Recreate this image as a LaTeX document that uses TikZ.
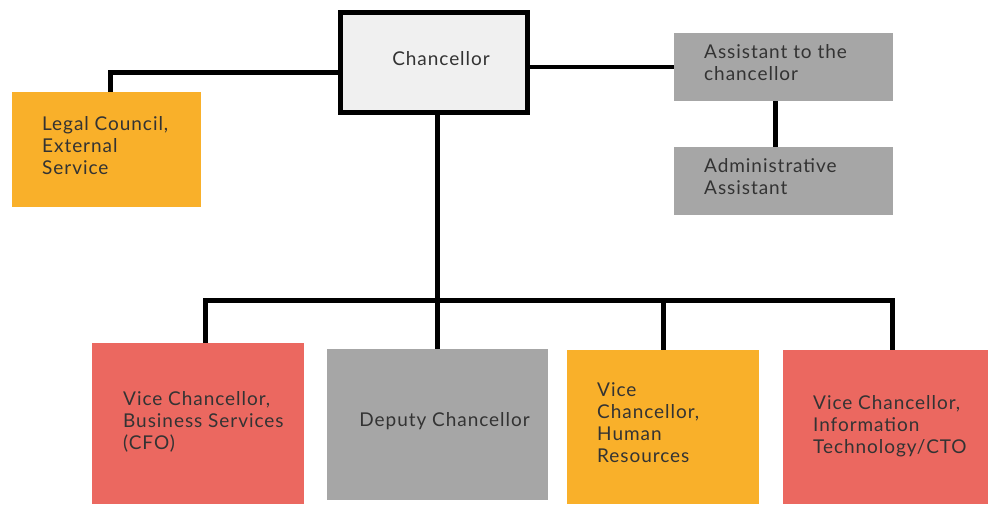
\documentclass[tikz,border=0pt]{standalone}
\usepackage{fontspec}
\setmainfont[LetterSpace=5]{Lato}
\definecolor{orgorange}{HTML}{F9B02A}
\definecolor{orgred}{HTML}{EB6860}
\definecolor{orggray}{HTML}{A6A6A6}
\definecolor{orglight}{HTML}{F0F0F0}
\definecolor{orgtext}{HTML}{333333}
\begin{document}
\begin{tikzpicture}[x=1pt,y=-1pt,
  unit/.style={rectangle, inner sep=0pt, outer sep=0pt},
  head/.style={unit, draw=black, line width=5pt, fill=orglight},
  caption/.style={inner sep=0pt, text=orgtext, yshift=4pt,
    font=\fontsize{19}{22}\selectfont, align=left},
  leftcap/.style={caption, anchor=west, xshift=30pt},
  link/.style={draw=black, line width=5pt, line join=miter},
  thinlink/.style={draw=black, line width=4pt}]
\useasboundingbox (0,0) rectangle (988,504);

% top level
\node[head, minimum width=187pt, minimum height=100pt,
  label={[caption, align=center, xshift=7pt]center:Chancellor}] (chan) at (434,62.5) {};
\node[unit, fill=orgorange, minimum width=189pt, minimum height=115pt,
  label={[leftcap]west:{Legal Council,\\External\\Service}}] (legal) at (106.5,149.5) {};
\node[unit, fill=orggray, minimum width=219pt, minimum height=68pt,
  label={[leftcap]west:{Assistant to the\\chancellor}}] (asst) at (783.5,67) {};
\node[unit, fill=orggray, minimum width=219pt, minimum height=68pt,
  label={[leftcap]west:{Administrative\\Assistant}}] (admin) at (783.5,181) {};

% second level
\node[unit, fill=orgred, minimum width=212pt, minimum height=161pt,
  label={[leftcap, xshift=1pt, yshift=-2pt]west:{Vice Chancellor,\\Business Services\\(CFO)}}] (vcb) at (198,423.5) {};
\node[unit, fill=orggray, minimum width=221pt, minimum height=151pt,
  label={[caption, align=center, xshift=7pt, yshift=-1pt]center:Deputy Chancellor}] (dep) at (437.5,424.5) {};
\node[unit, fill=orgorange, minimum width=192pt, minimum height=154pt,
  label={[leftcap]west:{Vice\\Chancellor,\\Human\\Resources}}] (vchr) at (663,427) {};
\node[unit, fill=orgred, minimum width=205pt, minimum height=154pt,
  label={[leftcap, yshift=-3pt]west:{Vice Chancellor,\\Information\\Technology/CTO}}] (vcit) at (885.5,427) {};

% connectors
\coordinate (bus) at (437,300);
\draw[link] ([yshift=-10pt]chan.west) -| ([xshift=4pt]legal.north);
\draw[thinlink] (asst.west -| chan.east) -- (asst.west);
\draw[link] ([xshift=-8pt]asst.south) -- ([xshift=-8pt]admin.north);
\draw[link] ([xshift=3pt]chan.south) -- (bus);
\draw[link] ([xshift=7pt]vcb.north) |- (bus) -| ([xshift=7pt]vcit.north);
\draw[link] (bus) -- (dep.north -| bus);
\draw[link] (vchr.north |- bus) -- (vchr.north);
\end{tikzpicture}
\end{document}
